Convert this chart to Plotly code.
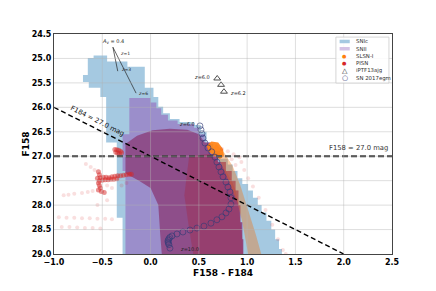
import plotly.graph_objects as go

# ---------------- data ----------------
# SNIc 2D-histogram footprint (outline of occupied bins)
snic_x = [-0.65, -0.59, -0.59, -0.45, -0.45, -0.24, -0.24, -0.06, -0.06, 0.03, 0.03, 0.08, 0.08, 0.13, 0.13,
          0.20, 0.20, 0.30, 0.30, 0.45, 0.45, 0.52, 0.52, 0.58, 0.58, 0.65, 0.65, 0.72, 0.72, 0.80, 0.80,
          0.85, 0.85, 0.90, 0.90, 0.95, 0.95, 1.01, 1.01, 1.06, 1.06, 1.11, 1.11, 1.15, 1.15, 1.20, 1.20,
          1.25, 1.25, 1.29, 1.29, 1.33, 1.33, 1.36, 1.36, -0.29, -0.29, -0.35, -0.35, -0.46, -0.46, -0.52,
          -0.52, -0.64, -0.64, -0.70, -0.70, -0.65, -0.65]
snic_y = [24.99, 24.99, 24.94, 24.94, 25.06, 25.06, 25.17, 25.17, 25.60, 25.60, 25.79, 25.79, 25.99, 25.99, 26.12,
          26.12, 26.24, 26.24, 26.30, 26.30, 26.36, 26.36, 26.50, 26.50, 26.75, 26.75, 26.90, 26.90, 27.05, 27.05, 27.17,
          27.17, 27.30, 27.30, 27.45, 27.45, 27.57, 27.57, 27.70, 27.70, 27.85, 27.85, 28.00, 28.00, 28.15, 28.15, 28.32,
          28.32, 28.50, 28.50, 28.70, 28.70, 28.90, 28.90, 29.10, 29.10, 28.26, 28.26, 26.72, 26.72, 25.79, 25.79,
          25.60, 25.60, 25.48, 25.48, 25.34, 25.34, 24.99]

# SNII 2D-histogram footprint
snii_x = [-0.22, 0.00, 0.00, 0.06, 0.06, 0.11, 0.11, 0.18, 0.18, 0.28, 0.28, 0.45, 0.45, 0.50, 0.50, 0.56, 0.56,
          0.62, 0.62, 0.70, 0.70, 0.78, 0.78, 0.84, 0.84, 0.88, 0.88, 0.91, 0.91, 0.93, 0.93, 0.95, 0.95, 0.96,
          0.96, -0.26, -0.26, -0.29, -0.29, -0.22, -0.22]
snii_y = [25.81, 25.81, 25.90, 25.90, 26.02, 26.02, 26.15, 26.15, 26.27, 26.27, 26.34, 26.34, 26.42, 26.42, 26.55,
          26.55, 26.72, 26.72, 26.95, 26.95, 27.12, 27.12, 27.30, 27.30, 27.50, 27.50, 27.70, 27.70, 28.00, 28.00,
          28.35, 28.35, 28.70, 28.70, 29.10, 29.10, 27.30, 27.30, 26.55, 26.55, 25.81]

# dense PISN coverage over the SNII footprint
dense_x = [-0.26, -0.14, 0.02, 0.20, 0.38, 0.50, 0.56, 0.62, 0.62, 0.70, 0.70, 0.78, 0.78, 0.84, 0.84, 0.88,
           0.88, 0.91, 0.91, 0.93, 0.93, 0.95, 0.95, 0.96, 0.96, 0.12, 0.10, 0.08, 0.00, -0.12, -0.26, -0.26]
dense_y = [26.75, 26.58, 26.47, 26.44, 26.46, 26.55, 26.72, 26.72, 26.95, 26.95, 27.12, 27.12, 27.30, 27.30,
           27.50, 27.50, 27.70, 27.70, 28.00, 28.00, 28.35, 28.35, 28.70, 28.70, 29.10, 29.10, 28.60, 28.00,
           27.65, 27.50, 27.35, 26.75]
red_core_x = [0.40, 0.62, 0.70, 0.78, 0.84, 0.88, 0.91, 0.93, 0.95, 0.96, 0.45, 0.40, 0.35, 0.38, 0.40]
red_core_y = [27.00, 26.95, 27.12, 27.30, 27.50, 27.70, 28.00, 28.35, 28.70, 29.10, 29.10, 28.50, 27.80, 27.30, 27.00]

# SLSN-I cloud
slsn_band_x = [0.64, 0.73, 0.82, 0.90, 0.95, 0.99, 1.02, 1.16, 1.09, 1.01, 0.93, 0.85, 0.76, 0.68, 0.64]
slsn_band_y = [26.85, 27.15, 27.55, 27.95, 28.35, 28.75, 29.10, 29.10, 28.60, 28.10, 27.60, 27.20, 26.92, 26.75, 26.85]
slsn_core_x = [0.58, 0.63, 0.70, 0.75, 0.76, 0.72, 0.65, 0.60, 0.58]
slsn_core_y = [26.78, 26.70, 26.72, 26.85, 27.00, 27.05, 26.98, 26.90, 26.78]

# PISN tracks (dense part)
pisn_x = [-0.55, -0.52, -0.49, -0.46, -0.43, -0.40, -0.37, -0.34, -0.31, -0.28, -0.25, -0.22, -0.20,
          -0.53, -0.50, -0.47, -0.44, -0.41, -0.38, -0.35,
          -0.54, -0.53, -0.54, -0.53, -0.52, -0.54, -0.51, -0.48,
          -0.37, -0.35, -0.33, -0.31, -0.36, -0.34, -0.32, -0.30]
pisn_y = [27.45, 27.44, 27.43, 27.43, 27.44, 27.42, 27.41, 27.40, 27.40, 27.39, 27.38, 27.37, 27.37,
          27.50, 27.49, 27.48, 27.48, 27.47, 27.47, 27.46,
          27.32, 27.38, 27.55, 27.60, 27.65, 27.69, 27.72, 27.74,
          26.86, 26.87, 26.88, 26.90, 26.92, 26.94, 26.95, 26.93]
# PISN tracks (sparse part)
pisn_faint_x = [-0.90, -0.85, -0.79, -0.71, -0.65, -0.60, -0.67, -0.62, -0.58,
                -0.95, -0.87, -0.79, -0.71, -0.63, -0.55, -0.47, -0.40,
                -0.92, -0.84, -0.76, -0.68, -0.60, -0.52,
                -0.45, -0.40, -0.30, -0.25, -0.45, -0.55,
                0.74, 0.80, 0.86, 0.92, 0.84, 0.94, 0.88, 0.97, 1.01, 1.06, 1.12, 1.19, 1.26, 1.32, 1.37, 1.40]
pisn_faint_y = [27.80, 27.79, 27.77, 27.75, 27.73, 27.71, 27.16, 27.22, 27.28,
                28.25, 28.26, 28.26, 28.27, 28.27, 28.28, 28.28, 28.29,
                28.45, 28.45, 28.46, 28.47, 28.47, 28.48,
                27.60, 27.65, 27.60, 27.55, 27.90, 28.00,
                26.85, 26.90, 26.96, 27.02, 27.06, 27.12, 27.18, 27.28, 27.45, 27.62, 27.85, 28.10, 28.40, 28.70, 28.92, 29.00]

# SN 2017egm track, z = 6.0 ... 10.0
sn17_x = [0.511, 0.522, 0.532, 0.542, 0.563, 0.594, 0.633, 0.667, 0.687, 0.708, 0.729, 0.750, 0.781, 0.801,
          0.822, 0.832, 0.832, 0.812, 0.781, 0.739, 0.687, 0.625, 0.553, 0.480, 0.408, 0.335, 0.273, 0.222,
          0.200, 0.190, 0.182, 0.180, 0.185, 0.190, 0.201]
sn17_y = [26.38, 26.46, 26.54, 26.63, 26.73, 26.83, 26.91, 27.02, 27.12, 27.22, 27.32, 27.42, 27.53, 27.63,
          27.73, 27.85, 27.98, 28.08, 28.16, 28.24, 28.30, 28.37, 28.43, 28.47, 28.51, 28.55, 28.59, 28.63,
          28.66, 28.69, 28.72, 28.75, 28.78, 28.81, 28.88]

# iPTF13ajg, z = 6.0 ... 6.2
ptf_x = [0.69, 0.73, 0.76]
ptf_y = [25.41, 25.54, 25.68]

# reddening vectors (A_V = 0.4)
av_x = [-0.34, -0.39, -0.15]
av_y = [25.26, 24.77, 25.71]

hline_x = [-1.0, 2.5]
hline_y = [27.0, 27.0]
f184_x = [-1.0, 2.0]
f184_y = [26.0, 29.0]

x_ticks = [-1.0, -0.5, 0.0, 0.5, 1.0, 1.5, 2.0, 2.5]
y_ticks = [24.5, 25.0, 25.5, 26.0, 26.5, 27.0, 27.5, 28.0, 28.5, 29.0]

legend_labels = ["SNIc", "SNII", "SLSN-I", "PISN", "iPTF13ajg", "SN 2017egm"]

# ---------------- figure ----------------
FONT = "DejaVu Sans"
C_BLUE = "#a5c9e1"
C_NAVY = "rgba(50,60,120,0.8)"

fig = go.Figure()

def poly(x, y, color):
    fig.add_trace(go.Scatter(x=x, y=y, mode="lines", fill="toself", fillcolor=color,
                             line=dict(width=0), hoverinfo="skip", showlegend=False))

poly(snic_x, snic_y, C_BLUE)
poly(snii_x, snii_y, "rgba(148,103,189,0.6)")
poly(dense_x, dense_y, "rgba(135,45,105,0.66)")
poly(red_core_x, red_core_y, "rgba(170,30,50,0.3)")
poly(slsn_band_x, slsn_band_y, "rgba(235,120,30,0.4)")
poly(slsn_core_x, slsn_core_y, "rgba(255,127,14,0.9)")

fig.add_trace(go.Scatter(x=pisn_faint_x, y=pisn_faint_y, mode="markers",
                         marker=dict(color="rgba(214,39,40,0.15)", size=4), showlegend=False, hoverinfo="skip"))
fig.add_trace(go.Scatter(x=pisn_x, y=pisn_y, mode="markers",
                         marker=dict(color="rgba(214,39,40,0.5)", size=5), showlegend=False, hoverinfo="skip"))

# limiting-magnitude lines
fig.add_trace(go.Scatter(x=hline_x, y=hline_y, mode="lines",
                         line=dict(color="#333333", width=2, dash="6px,3px"), showlegend=False, hoverinfo="skip"))
fig.add_trace(go.Scatter(x=f184_x, y=f184_y, mode="lines",
                         line=dict(color="black", width=1.4, dash="5px,3px"), showlegend=False, hoverinfo="skip"))

# reddening vectors
fig.add_trace(go.Scatter(x=av_x, y=av_y, mode="lines", line=dict(color="#222", width=0.7),
                         showlegend=False, hoverinfo="skip"))

fig.add_trace(go.Scatter(x=sn17_x, y=sn17_y, mode="markers",
                         marker=dict(symbol="circle-open", size=6, color=C_NAVY, line=dict(width=0.8)),
                         showlegend=False, hoverinfo="skip"))
fig.add_trace(go.Scatter(x=ptf_x, y=ptf_y, mode="markers",
                         marker=dict(symbol="triangle-up-open", size=6, color="#222", line=dict(width=0.8)),
                         showlegend=False, hoverinfo="skip"))

shapes = []
# grid drawn above the data, as in the original
for gx in x_ticks[1:-1]:
    shapes.append(dict(type="line", xref="x", yref="y domain", x0=gx, x1=gx, y0=0, y1=1, layer="above",
                       line=dict(color="rgba(180,180,180,0.55)", width=0.8)))
for gy in y_ticks[1:-1]:
    shapes.append(dict(type="line", xref="x domain", yref="y", x0=0, x1=1, y0=gy, y1=gy, layer="above",
                       line=dict(color="rgba(180,180,180,0.55)", width=0.8)))

# legend (drawn by hand, matplotlib style)
lg_x0, lg_x1, lg_y0, lg_y1 = 0.834, 0.991, 0.777, 0.986
shapes.append(dict(type="rect", xref="x domain", yref="y domain", x0=lg_x0, x1=lg_x1, y0=lg_y0, y1=lg_y1,
                   layer="above", fillcolor="rgba(255,255,255,0.85)", line=dict(color="#cccccc", width=0.8)))
rows = [0.966, 0.933, 0.900, 0.867, 0.833, 0.800]
patch_cols = [C_BLUE, "#d4c2e5"]
for r, c in zip(rows[:2], patch_cols):
    shapes.append(dict(type="rect", xref="x domain", yref="y domain", x0=0.845, x1=0.875,
                       y0=r - 0.008, y1=r + 0.008, layer="above", fillcolor=c, line=dict(width=0)))

annotations = []
sym = [None, None, ("●", "#ff7f0e", 5), ("●", "#d62728", 5), ("△", "#222", 7), ("○", "rgb(50,60,120)", 7)]
for r, lab, s in zip(rows, legend_labels, sym):
    annotations.append(dict(xref="x domain", yref="y domain", x=0.888, y=r, text=lab, showarrow=False,
                            xanchor="left", yanchor="middle", font=dict(family=FONT, size=5.4, color="#333")))
    if s:
        annotations.append(dict(xref="x domain", yref="y domain", x=0.860, y=r, text=s[0], showarrow=False,
                                xanchor="center", yanchor="middle", font=dict(family=FONT, size=s[2], color=s[1])))

def note(x, y, text, size=5, xa="center", color="#222", angle=0):
    annotations.append(dict(x=x, y=y, text=text, showarrow=False, xanchor=xa, yanchor="middle",
                            textangle=angle, font=dict(family=FONT, size=size, color=color)))

note(2.48, 26.84, "F158 = 27.0 mag", size=6.8, xa="right", color="#333")
note(-0.55, 26.27, "F184 = 27.0 mag", size=6.8, color="#111", angle=26.8)
note(0.636, 25.38, "<i>z</i>=6.0", xa="right")
note(0.80, 25.71, "<i>z</i>=6.2", xa="left")
note(0.48, 26.34, "<i>z</i>=6.0", xa="right")
note(0.284, 28.90, "<i>z</i>=10.0", xa="left")
note(-0.39, 24.65, "<i>A</i><sub>V</sub> = 0.4", size=5)
note(-0.34, 24.90, "<i>z</i>=1", xa="left", size=4.5)
note(-0.33, 25.23, "<i>z</i>=3", xa="left", size=4.5)
note(-0.15, 25.72, "<i>z</i>=6", xa="left", size=4.5)

fig.update_layout(
    width=436, height=291,
    margin=dict(l=54, r=44, t=34, b=37, autoexpand=False),
    paper_bgcolor="white", plot_bgcolor="white",
    showlegend=False, hovermode=False,
    shapes=shapes, annotations=annotations,
    font=dict(family=FONT),
    xaxis=dict(range=[-1.0, 2.5], tickvals=x_ticks, tickformat=".1f", showgrid=False, zeroline=False,
               showline=True, linecolor="#444", linewidth=1, mirror=True, ticks="", layer="above traces",
               tickfont=dict(family=FONT, size=8, color="black", weight="bold"),
               title=dict(text="F158 - F184", standoff=4,
                          font=dict(family=FONT, size=9, color="black", weight="bold"))),
    yaxis=dict(range=[29.0, 24.5], tickvals=y_ticks, tickformat=".1f", showgrid=False, zeroline=False,
               showline=True, linecolor="#444", linewidth=1, mirror=True, ticks="", layer="above traces",
               tickfont=dict(family=FONT, size=8, color="black", weight="bold"),
               title=dict(text="F158", standoff=0,
                          font=dict(family=FONT, size=9, color="black", weight="bold"))),
)

fig.write_html("out.html", config={"displayModeBar": False, "staticPlot": True},
               post_script="document.body.style.margin='0px';document.body.style.overflow='hidden';")
